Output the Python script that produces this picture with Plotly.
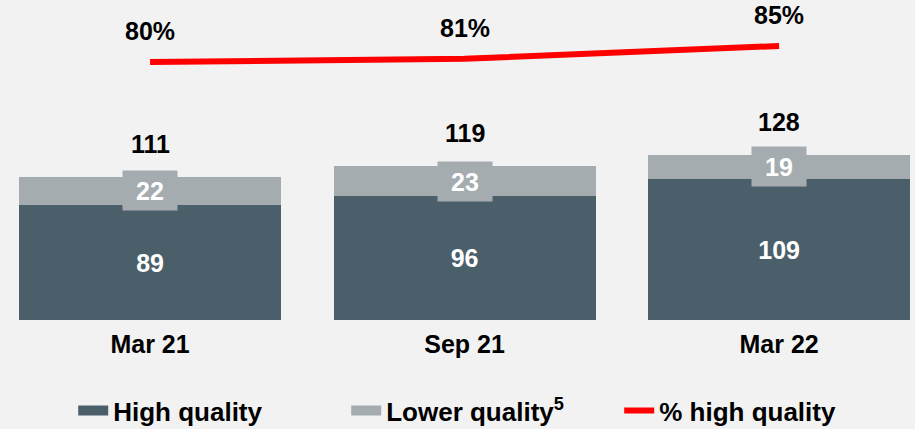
import plotly.graph_objects as go

categories = ["Mar 21", "Sep 21", "Mar 22"]
high_quality = [89, 96, 109]
lower_quality = [22, 23, 19]
totals = [111, 119, 128]
pct_high = [80, 81, 85]
pct_labels = ["80%", "81%", "85%"]

DARK = "#4B5F6A"
LIGHT = "#A5ACB0"
RED = "#FF0000"
BG = "#F2F2F2"
FONT = "Liberation Sans, Arial, sans-serif"
FS = 25

fig = go.Figure()
fig.add_trace(go.Bar(
    x=categories, y=high_quality, name="High quality", marker_color=DARK,
    marker_line_width=0, width=0.833, showlegend=False,
    text=[str(v) for v in high_quality], textposition="inside",
    insidetextanchor="middle", constraintext="none",
    textfont=dict(color="white", size=FS, family=FONT, weight="bold"),
))
fig.add_trace(go.Bar(
    x=categories, y=lower_quality, name="Lower quality", marker_color=LIGHT,
    marker_line_width=0, width=0.833, showlegend=False,
))
fig.add_trace(go.Scatter(
    x=categories, y=pct_high, yaxis="y2", mode="lines",
    line=dict(color=RED, width=6), showlegend=False,
))

# legend entries
fig.add_trace(go.Scatter(x=[None], y=[None], mode="lines", name="High quality",
                         line=dict(color=DARK, width=14)))
fig.add_trace(go.Scatter(x=[None], y=[None], mode="lines", name="Lower quality<sup>5</sup>",
                         line=dict(color=LIGHT, width=14)))
fig.add_trace(go.Scatter(x=[None], y=[None], mode="lines", name="% high quality",
                         line=dict(color=RED, width=6)))

anns = []
for c, h, l, t in zip(categories, high_quality, lower_quality, totals):
    anns.append(dict(x=c, y=h + l / 2, xref="x", yref="y", text=str(l), showarrow=False,
                     bgcolor=LIGHT, width=52, height=37, borderpad=1,
                     font=dict(color="white", size=FS, family=FONT, weight="bold")))
    anns.append(dict(x=c, y=t, xref="x", yref="y", text=str(t), showarrow=False,
                     yshift=33,
                     font=dict(color="black", size=FS, family=FONT, weight="bold")))
for c, p, lab in zip(categories, pct_high, pct_labels):
    anns.append(dict(x=c, y=p, xref="x", yref="y2", text=lab, showarrow=False,
                     yshift=31,
                     font=dict(color="black", size=FS, family=FONT, weight="bold")))

fig.update_layout(
    width=915, height=429,
    barmode="stack",
    paper_bgcolor=BG, plot_bgcolor=BG,
    margin=dict(l=0, r=0, t=0, b=109, autoexpand=False),
    font=dict(family=FONT, size=FS, color="black", weight="bold"),
    xaxis=dict(range=[-0.477, 2.432], showgrid=False, zeroline=False, showline=False,
               ticks="", ticklabelstandoff=7, automargin=False,
               tickfont=dict(size=FS, family=FONT, color="black", weight="bold")),
    yaxis=dict(range=[0, 247.7], visible=False, showgrid=False),
    yaxis2=dict(range=[-0.625, 99.375], overlaying="y", visible=False, showgrid=False),
    legend=dict(orientation="h", x=0.08, xanchor="left", y=-0.21, yanchor="top",
                traceorder="normal", entrywidth=228,
                font=dict(size=26, family=FONT, color="black", weight="bold"),
                bgcolor="rgba(0,0,0,0)"),
    annotations=anns,
    showlegend=True,
)

fig.write_html("out.html", config={"displayModeBar": False},
               post_script="document.body.style.margin='0';")
